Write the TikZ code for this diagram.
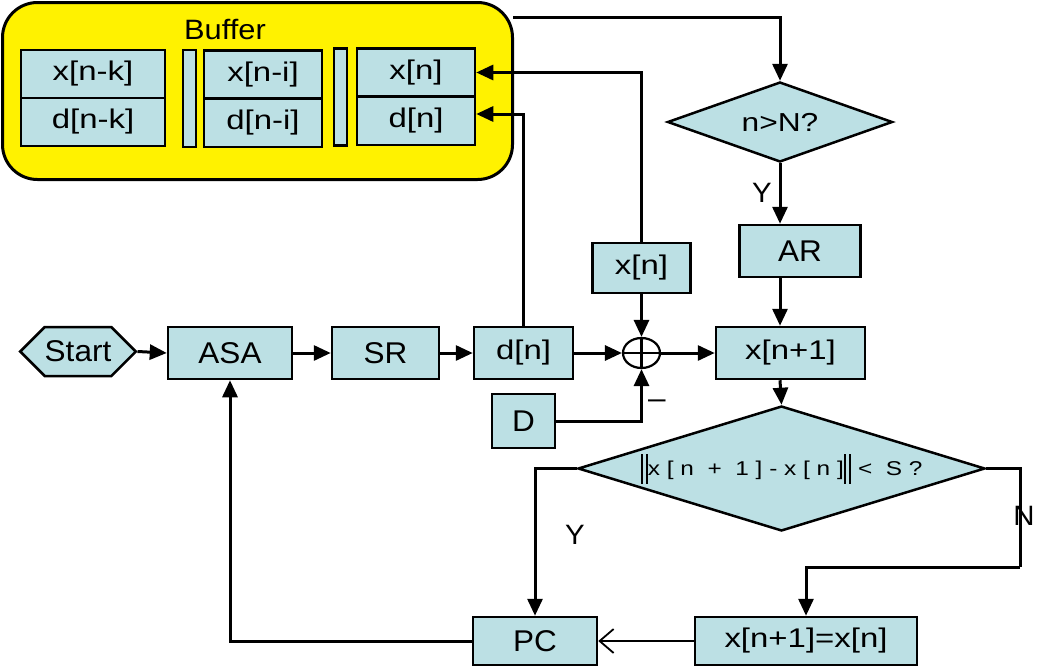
\documentclass[tikz,border=0pt]{standalone}
\usepackage{fontspec}
\setmainfont[FakeStretch=1.05]{Liberation Sans}
\newfontfamily\widefont[FakeStretch=1.22]{Liberation Sans}
\newfontfamily\midfont[FakeStretch=1.1]{Liberation Sans}
\usetikzlibrary{shapes.geometric,shapes.symbols,arrows.meta}

\definecolor{boxblue}{RGB}{188,224,228}
\newcommand{\normbars}{\rule[-0.4em]{2.2pt}{1.5em}\hspace{3pt}\rule[-0.4em]{2.2pt}{1.5em}}

\tikzset{
  blk/.style={draw, line width=2.5pt, fill=boxblue, inner sep=0pt, font=\fontsize{30}{30}\selectfont},
  sig/.style={blk, font=\widefont\fontsize{27}{27}\selectfont},
  cell/.style={sig, minimum width=118pt, minimum height=48pt},
  sepbar/.style={blk, minimum width=13pt, minimum height=97pt},
  flow/.style={line width=3pt, -{Triangle[length=17pt,width=15pt]}},
  lbl/.style={font=\fontsize{28}{28}\selectfont},
}

\begin{document}
\begin{tikzpicture}[x=1pt,y=-1pt]
\useasboundingbox (0,0) rectangle (1050,667);

% buffer
\node[draw, line width=3pt, fill=yellow, rounded corners=35pt, minimum width=510pt, minimum height=177pt] (buffer) at (257.5,91) {};
\node[font=\midfont\fontsize{28}{28}\selectfont] (buftitle) at (225,30) {Buffer};
\node[cell, minimum width=144pt] (xnk) at (93,74) {x[n-k]};
\node[cell, minimum width=144pt] (dnk) at (93,122) {d[n-k]};
\node[sepbar] (bar1) at (189.5,98.5) {};
\node[cell] (xni) at (263,74.5) {x[n-i]};
\node[cell] (dni) at (263,123) {d[n-i]};
\node[sepbar] (bar2) at (340.5,97) {};
\node[cell] (xn) at (416,72.5) {x[n]};
\node[cell] (dn) at (416,121) {d[n]};

% main chain
\node[blk, signal, signal to=west and east, signal pointer angle=90, minimum width=114pt, minimum height=49pt] (start) at (78,351.5) {Start};
\node[blk, minimum width=124pt, minimum height=52pt] (asa) at (230,353) {ASA};
\node[blk, minimum width=107pt, minimum height=52pt] (sr) at (385.5,353) {SR};
\node[sig, minimum width=99pt, minimum height=52pt] (dsig) at (523.5,353) {d[n]};
\node[draw, line width=2.2pt, ellipse, minimum width=37pt, minimum height=30pt, inner sep=0pt] (sum) at (641.5,353) {};
\node[blk, minimum width=63pt, minimum height=54pt] (dconst) at (523.5,421) {D};
\node[sig, minimum width=98pt, minimum height=50pt] (xnbox) at (641.5,268) {x[n]};
\node[font=\fontsize{30}{30}\selectfont] (minus) at (657,404) {–};

% right column
\node[sig, diamond, aspect=2.8, minimum width=225pt, minimum height=80pt, font=\widefont\fontsize{26}{26}\selectfont] (check) at (780,122) {n>N?};
\node[blk, minimum width=121pt, minimum height=52pt] (ar) at (800,251) {AR};
\node[sig, minimum width=149pt, minimum height=52pt] (xnext) at (790.5,353) {x[n+1]};
\node[sig, diamond, aspect=3.26, minimum width=407pt, minimum height=125pt, font=\widefont\fontsize{20}{20}\selectfont] (conv) at (781.5,468.5) {\normbars x [ n\ \ +\ \ 1 ] - x [ n ]\normbars\ <\ \ S ?};
\node[blk, minimum width=124pt, minimum height=48pt] (pc) at (535,641) {PC};
\node[sig, minimum width=222pt, minimum height=48pt] (keep) at (806,641) {x[n+1]=x[n]};

\coordinate (ncorner) at (1020,567);
\coordinate (topstart) at (513,17);

\node[lbl] (yes1) at (762,193) {Y};
\node[lbl] (yes2) at (575,535) {Y};
\node[lbl] (no) at (1024,516) {N};

% connectors
\draw[line width=2.2pt] (sum.north) -- (sum.south) (sum.west) -- (sum.east);
\draw[flow] (start.east) -- (asa.west);
\draw[flow] (asa.east) -- (sr.west);
\draw[flow] (sr.east) -- (dsig.west);
\draw[flow] (dsig.east) -- (sum.west);
\draw[flow] (sum.east) -- (xnext.west);
\draw[flow] (xnbox.south) -- (sum.north);
\draw[flow] (dconst.east) -| (sum.south);
\draw[flow] (dsig.north) |- ([yshift=7pt]dn.east);
\draw[flow] (xnbox.north) |- (xn.east);
\draw[flow] (topstart) -| (check.north);
\draw[flow] (check.south) -- (check.south |- ar.north);
\draw[flow] (ar.south -| check.south) -- (xnext.north -| check.south);
\draw[flow] (xnext.south -| check.south) -- (conv.north);
\draw[flow] (conv.west) -| (pc.north);
\draw[line width=3pt] (conv.east) -| (ncorner);
\draw[flow] (ncorner) -| (keep.north);
\draw[line width=1.8pt, -{Straight Barb[length=14pt,width=24pt]}] (keep.west) -- (pc.east);
\draw[flow] (pc.west) -| (asa.south);
\end{tikzpicture}
\end{document}
